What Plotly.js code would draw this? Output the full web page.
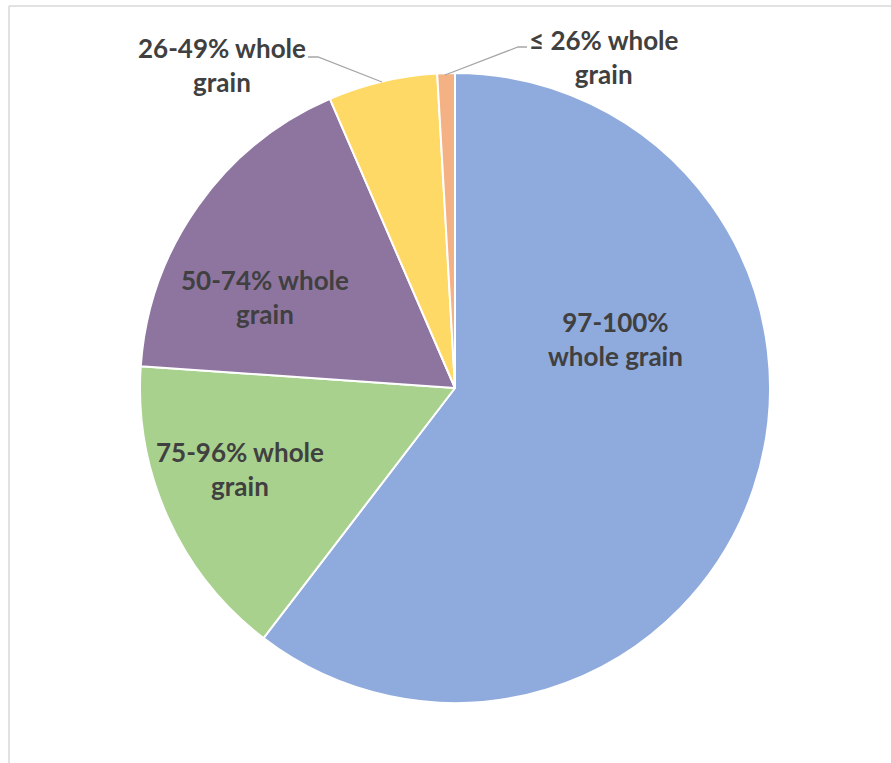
<!DOCTYPE html>
<html>
<head>
<meta charset="utf-8">
<script src="https://cdn.plot.ly/plotly-3.0.1.min.js"></script>
<style>
  html, body { margin: 0; padding: 0; background: #ffffff; }
  #chart { width: 891px; height: 763px; }
</style>
</head>
<body>
<div id="chart"></div>
<script>
// ---- data ----
const categories = ["97-100% whole grain", "75-96% whole grain", "50-74% whole grain", "26-49% whole grain", "\u2264 26% whole grain"];
const shares = [60.4, 15.7, 17.4, 5.6, 0.9];
const sliceColors = ["#8FAADC", "#A9D18E", "#8E75A0", "#FFD966", "#F4B183"];
const labelTexts = ["97-100%<br>whole grain", "75-96% whole<br>grain", "50-74% whole<br>grain", "26-49% whole<br>grain", "\u2264 26% whole<br>grain"];

// ---- layout helpers (pixel -> paper) ----
const W = 891, H = 763;
const px = x => x / W;
const py = y => 1 - y / H;

const cx = 455, cy = 388, R = 315;

const labelPos = [[615, 339], [240, 469], [265, 297], [222, 65], [604, 57]];

const annotations = labelTexts.map((t, i) => ({
  text: t,
  xref: "paper", yref: "paper",
  x: px(labelPos[i][0]), y: py(labelPos[i][1]),
  xanchor: "center", yanchor: "middle",
  showarrow: false,
  align: "center",
  font: { family: "Lato", size: 26, color: "#404040", weight: 700 }
}));

function pathPx(points) {
  return points.map((p, i) => (i === 0 ? "M" : "L") + px(p[0]) + "," + py(p[1])).join(" ");
}

const shapes = [
  // chart frame (top and left edges)
  { type: "line", xref: "paper", yref: "paper", x0: px(9), y0: py(6), x1: px(891), y1: py(6), line: { color: "#D9D9D9", width: 1.5 } },
  { type: "line", xref: "paper", yref: "paper", x0: px(9), y0: py(6), x1: px(9), y1: py(763), line: { color: "#D9D9D9", width: 1.5 } },
  // leader lines
  { type: "path", xref: "paper", yref: "paper", path: pathPx([[308, 57], [318, 57], [382, 82]]), line: { color: "#A6A6A6", width: 1.3 } },
  { type: "path", xref: "paper", yref: "paper", path: pathPx([[527, 47], [518, 47], [445, 75]]), line: { color: "#A6A6A6", width: 1.3 } }
];

const trace = {
  type: "pie",
  labels: categories,
  values: shares,
  sort: false,
  direction: "clockwise",
  rotation: 0,
  marker: { colors: sliceColors, line: { color: "#FFFFFF", width: 2 } },
  textinfo: "none",
  hoverinfo: "label+percent",
  domain: { x: [px(cx - R), px(cx + R)], y: [py(cy + R), py(cy - R)] }
};

const layout = {
  width: W, height: H,
  margin: { l: 0, r: 0, t: 0, b: 0 },
  paper_bgcolor: "#FFFFFF",
  showlegend: false,
  annotations: annotations,
  shapes: shapes
};

Plotly.newPlot("chart", [trace], layout, { displayModeBar: false, staticPlot: true });
</script>
</body>
</html>
